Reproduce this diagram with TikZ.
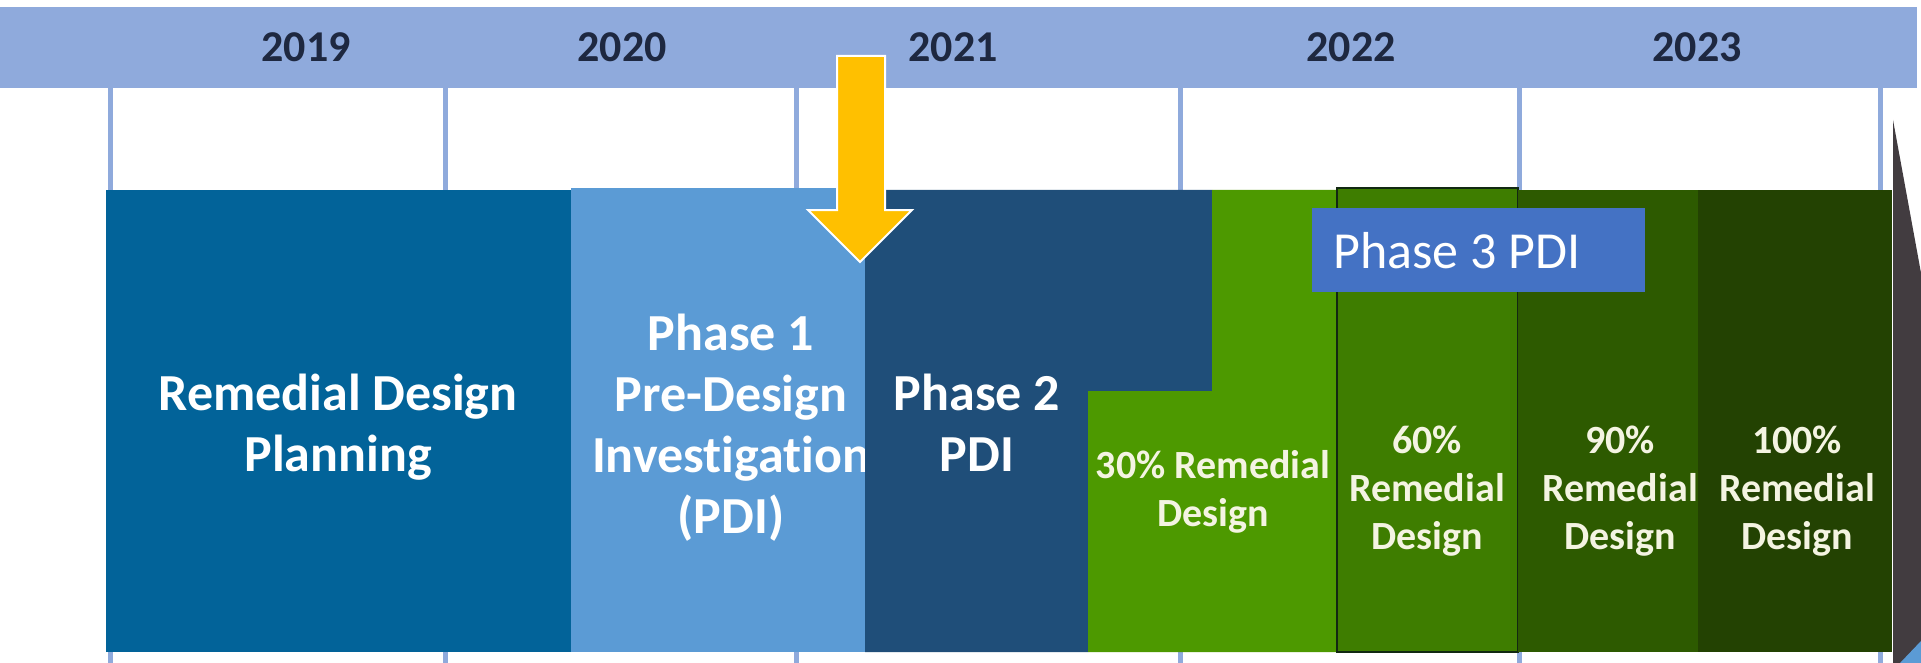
\documentclass[tikz,border=0pt]{standalone}
\usepackage{fontspec}
\setmainfont{Carlito}[Ligatures=NoCommon]
\usetikzlibrary{positioning}

\definecolor{bandblue}{RGB}{143,170,220}
\definecolor{yearnavy}{RGB}{30,40,64}
\definecolor{rdblue}{RGB}{2,99,153}
\definecolor{ponelight}{RGB}{91,155,213}
\definecolor{ptwonavy}{RGB}{31,78,121}
\definecolor{pthreeblue}{RGB}{68,114,196}
\definecolor{greenA}{RGB}{77,153,0}
\definecolor{greenB}{RGB}{62,125,0}
\definecolor{greenC}{RGB}{45,90,0}
\definecolor{greenD}{RGB}{35,66,2}
\definecolor{edgegreen}{RGB}{18,40,18}
\definecolor{arrowyellow}{RGB}{255,192,0}
\definecolor{wedgegray}{RGB}{66,60,64}
\definecolor{cream}{RGB}{244,244,226}

\begin{document}
\begin{tikzpicture}[x=1pt, y=-1pt,
  yearlabel/.style={font=\fontsize{44}{50}\selectfont\bfseries, text=yearnavy},
  bigtext/.style={font=\fontsize{52}{61}\selectfont\bfseries, text=white, align=center},
  greentext/.style={font=\fontsize{40}{48}\selectfont\bfseries, text=cream, align=center}]
  \useasboundingbox (0,0) rectangle (1921,663);
  %----- year band -----
  \fill[bandblue] (0,7) rectangle (1917,88);
  \def\yearline#1{ % (x of the line)
    \fill[bandblue] (#1-2.5,88) rectangle (#1+2.5,663);
  }
  \yearline{110} \yearline{445} \yearline{796}
  \yearline{1180} \yearline{1519} \yearline{1880}
  \node[yearlabel] (y2019) at (306,47) {2019};
  \node[yearlabel] (y2020) at (622,47) {2020};
  \node[yearlabel] (y2021) at (953,47) {2021};
  \node[yearlabel] (y2022) at (1351,47) {2022};
  \node[yearlabel] (y2023) at (1697,47) {2023};

  %----- planning + PDI phases -----
  \fill[rdblue] (106,190) rectangle (571,652);
  \node[bigtext] (plan) at (338,427) {Remedial Design\\Planning};
  \fill[ponelight] (571,188) rectangle (865,652);
  \node[bigtext] (phone) at (731,428) {Phase 1\\Pre-Design\\Investigation\\(PDI)};
  % phase 2 steps down where 30% design starts
  \fill[ptwonavy] (865,190) -- (1212,190) -- (1212,391) -- (1088,391)
    -- (1088,652) -- (865,652) -- cycle;
  \node[bigtext] (phtwo) at (977,423) {Phase 2\\PDI};

  %----- design stages -----
  \fill[greenA] (1212,190) -- (1337,190) -- (1337,652) -- (1088,652)
    -- (1088,391) -- (1212,391) -- cycle;
  \node[greentext] (d30) at (1213,492) {30\% Remedial\\Design};
  \fill[greenB] (1337,188) rectangle (1518,652);
  \draw[edgegreen, line width=2] (1337,188) rectangle (1518,652);
  \node[greentext] (d60) at (1427,491) {60\%\\Remedial\\Design};
  \fill[greenC] (1518,190) rectangle (1698,652);
  \node[greentext] (d90) at (1620,491) {90\%\\Remedial\\Design};
  \fill[greenD] (1698,190) rectangle (1892,652);
  \node[greentext] (d100) at (1797,491) {100\%\\Remedial\\Design};

  % phase 3 label over the 60% box
  \fill[pthreeblue] (1312,208) rectangle (1645,292);
  \node[anchor=west, text=white, font=\fontsize{52}{58}\selectfont] (phthree) at (1330,251) {Phase 3 PDI};

  %----- "now" arrow -----
  \draw[white, line width=2, fill=arrowyellow] (837,56) -- (885,56) -- (885,210)
    -- (912,210) -- (860,262) -- (808,210) -- (837,210) -- cycle;

  %----- edge at the right -----
  \fill[wedgegray] (1893,120) -- (1921,273) -- (1921,663) -- (1893,663) -- cycle;
  \fill[ponelight] (1900,663) -- (1921,641) -- (1921,663) -- cycle;
\end{tikzpicture}
\end{document}
